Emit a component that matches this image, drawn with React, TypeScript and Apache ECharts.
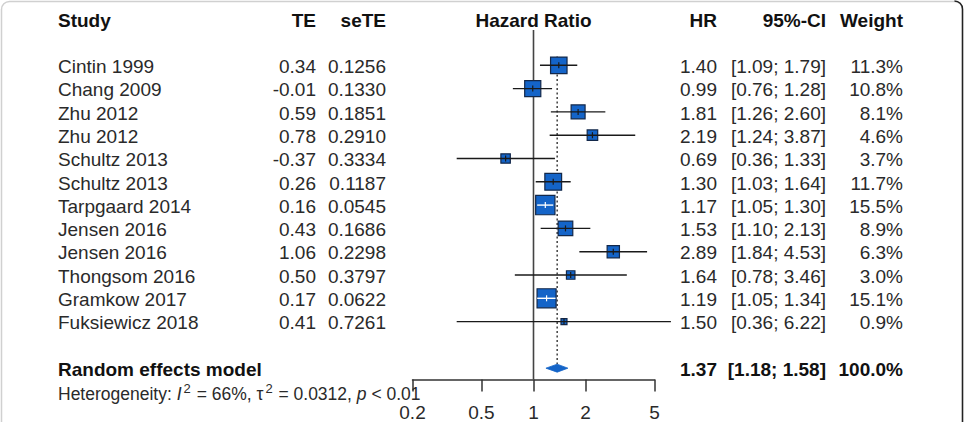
import { useEffect, useRef } from "react";
import * as echarts from "echarts";

// Study-level results (hazard ratios with 95% CI, inverse-variance weights)
const studies = [
  "Cintin 1999",
  "Chang 2009",
  "Zhu 2012",
  "Zhu 2012",
  "Schultz 2013",
  "Schultz 2013",
  "Tarpgaard 2014",
  "Jensen 2016",
  "Jensen 2016",
  "Thongsom 2016",
  "Gramkow 2017",
  "Fuksiewicz 2018",
];
const te = [0.34, -0.01, 0.59, 0.78, -0.37, 0.26, 0.16, 0.43, 1.06, 0.5, 0.17, 0.41];
const seTE = [0.1256, 0.133, 0.1851, 0.291, 0.3334, 0.1187, 0.0545, 0.1686, 0.2298, 0.3797, 0.0622, 0.7261];
const hr = [1.4, 0.99, 1.81, 2.19, 0.69, 1.3, 1.17, 1.53, 2.89, 1.64, 1.19, 1.5];
const ciLow = [1.09, 0.76, 1.26, 1.24, 0.36, 1.03, 1.05, 1.1, 1.84, 0.78, 1.05, 0.36];
const ciHigh = [1.79, 1.28, 2.6, 3.87, 1.33, 1.64, 1.3, 2.13, 4.53, 3.46, 1.34, 6.22];
const weight = [11.3, 10.8, 8.1, 4.6, 3.7, 11.7, 15.5, 8.9, 6.3, 3.0, 15.1, 0.9];

// Pooled random effects estimate
const pooledLabel = "Random effects model";
const pooledHR = [1.37];
const pooledLow = [1.18];
const pooledHigh = [1.58];
const pooledWeight = [100.0];
const heterogeneity = { i2: "66%", tau2: "0.0312", p: "0.01" };

// Axis ticks (hazard ratio, log scale)
const axisTicks = [0.2, 0.5, 1, 2, 5];

const lg = (v: number) => Math.log10(v);

const FONT = '"Liberation Sans", Arial, Helvetica, sans-serif';
const FS = 19;
const INK = "#2a2a2a";
const BOX_FILL = "#1464c8";
const BOX_EDGE = "#13284a";

// row positions on the y scale
const HEADER_ROW = -2;
const POOLED_ROW = studies.length + 1;
const HET_ROW = studies.length + 2.05;
const Y_MIN = -1.515;
const Y_MAX = 13.49;

// column anchors (px)
const COL = { study: 58, te: 316, se: 386, mid: 533.5, hr: 717, ci: 826, w: 903 };
const TEXT_DY = 1.3;

function label(x: number, y: number, text: string, align: string, bold = false, extra: any = {}) {
  return {
    type: "text",
    style: {
      x,
      y: y + TEXT_DY,
      text,
      align,
      verticalAlign: "middle",
      fill: bold ? "#111" : INK,
      fontFamily: FONT,
      fontSize: FS,
      fontWeight: bold ? "bold" : "normal",
      ...extra,
    },
  };
}

export default function App() {
  const ref = useRef<HTMLDivElement>(null);

  useEffect(() => {
    if (!ref.current) return;
    const chart = echarts.init(ref.current, undefined, { renderer: "svg" });

    const studyData = studies.map((_, i) => [lg(hr[i]), i, lg(ciLow[i]), lg(ciHigh[i]), weight[i]]);
    const pooledData = pooledHR.map((v, k) => [lg(v), POOLED_ROW, lg(pooledLow[k]), lg(pooledHigh[k]), pooledWeight[k]]);

    const option: any = {
      animation: false,
      backgroundColor: "#ffffff",
      grid: {
        left: 412.5,
        top: 30,
        width: 242,
        height: 349.6,
        outerBoundsMode: "none",
      },
      xAxis: {
        type: "value",
        position: "bottom",
        min: lg(axisTicks[0]),
        max: lg(axisTicks[axisTicks.length - 1]),
        splitLine: { show: false },
        axisLine: { show: true, onZero: false, lineStyle: { color: "#333", width: 1.5 } },
        axisTick: {
          show: true,
          length: 12,
          customValues: axisTicks.map(lg),
          lineStyle: { color: "#333", width: 1.5 },
        },
        axisLabel: {
          show: true,
          customValues: axisTicks.map(lg),
          margin: 23,
          color: INK,
          fontFamily: FONT,
          fontSize: FS,
          formatter: (v: number) => {
            let best = axisTicks[0];
            axisTicks.forEach((t) => {
              if (Math.abs(lg(t) - v) < Math.abs(lg(best) - v)) best = t;
            });
            return String(best);
          },
        },
      },
      yAxis: {
        type: "value",
        inverse: true,
        min: Y_MIN,
        max: Y_MAX,
        show: false,
      },
      graphic: [
        {
          type: "rect",
          shape: { x: 1.5, y: 1.5, width: 961, height: 460, r: 8 },
          style: { fill: "none", stroke: "#d0d0d0", lineWidth: 1.5 },
          silent: true,
        },
        {
          type: "line",
          shape: { x1: 962.5, y1: 9, x2: 962.5, y2: 422 },
          style: { stroke: "#222", lineWidth: 1.5 },
          silent: true,
        },
        {
          type: "arc",
          shape: { cx: 954.5, cy: 9, r: 8, startAngle: -Math.PI / 2, endAngle: 0 },
          style: { stroke: "#222", lineWidth: 1.5, fill: "none" },
          silent: true,
        },
      ],
      series: [
        // no-effect reference line at HR = 1
        {
          type: "custom",
          clip: false,
          silent: true,
          z: 1,
          data: [[0, Y_MIN, Y_MAX]],
          encode: { x: 0, y: 1 },
          renderItem: (_p: any, api: any) => {
            const a = api.coord([api.value(0), api.value(1)]);
            const b = api.coord([api.value(0), api.value(2)]);
            return {
              type: "line",
              shape: { x1: a[0], y1: a[1], x2: b[0], y2: b[1] },
              style: { stroke: "#444", lineWidth: 1.6 },
            };
          },
        },
        // pooled estimate: dotted line, diamond and summary row text
        {
          type: "custom",
          clip: false,
          silent: true,
          z: 2,
          data: pooledData,
          encode: { x: 0, y: 1 },
          renderItem: (_p: any, api: any) => {
            const row = api.value(1);
            const [cx, cy] = api.coord([api.value(0), row]);
            const xl = api.coord([api.value(2), row])[0];
            const xh = api.coord([api.value(3), row])[0];
            const top = api.coord([api.value(0), -0.38])[1];
            const h = 4;
            const k = _p.dataIndex;
            return {
              type: "group",
              children: [
                {
                  type: "line",
                  shape: { x1: cx, y1: top, x2: cx, y2: cy - h },
                  style: { stroke: "#333", lineWidth: 1.4, lineDash: [2, 2.5] },
                },
                {
                  type: "polygon",
                  shape: { points: [[xl, cy], [cx, cy - h], [xh, cy], [cx, cy + h]] },
                  style: { fill: BOX_FILL, stroke: BOX_FILL, lineWidth: 0.8 },
                },
                label(COL.study, cy, pooledLabel, "left", true),
                label(COL.hr, cy, pooledHR[k].toFixed(2), "right", true),
                label(COL.ci, cy, `[${pooledLow[k].toFixed(2)}; ${pooledHigh[k].toFixed(2)}]`, "right", true),
                label(COL.w, cy, `${pooledWeight[k].toFixed(1)}%`, "right", true),
              ],
            };
          },
        },
        // individual studies: weighted squares, CI whiskers and table columns
        {
          type: "custom",
          clip: false,
          silent: true,
          z: 3,
          data: studyData,
          encode: { x: 0, y: 1 },
          renderItem: (p: any, api: any) => {
            const i = p.dataIndex;
            const row = api.value(1);
            const [cx, cy] = api.coord([api.value(0), row]);
            const xl = api.coord([api.value(2), row])[0];
            const xh = api.coord([api.value(3), row])[0];
            const side = Math.max(6, 4.9 * Math.sqrt(api.value(4)));
            const inside = xl >= cx - side / 2 && xh <= cx + side / 2;
            const whisker = inside ? "#ffffff" : "#1a1a1a";
            return {
              type: "group",
              children: [
                {
                  type: "rect",
                  shape: { x: cx - side / 2, y: cy - side / 2, width: side, height: side },
                  style: { fill: BOX_FILL, stroke: BOX_EDGE, lineWidth: 1.2 },
                },
                {
                  type: "line",
                  shape: { x1: xl, y1: cy, x2: xh, y2: cy },
                  style: { stroke: whisker, lineWidth: 1.4 },
                },
                {
                  type: "line",
                  shape: { x1: cx, y1: cy - 3, x2: cx, y2: cy + 3 },
                  style: { stroke: whisker, lineWidth: 1.2 },
                },
                label(COL.study, cy, studies[i], "left"),
                label(COL.te, cy, te[i].toFixed(2), "right"),
                label(COL.se, cy, seTE[i].toFixed(4), "right"),
                label(COL.hr, cy, hr[i].toFixed(2), "right"),
                label(COL.ci, cy, `[${ciLow[i].toFixed(2)}; ${ciHigh[i].toFixed(2)}]`, "right"),
                label(COL.w, cy, `${weight[i].toFixed(1)}%`, "right"),
              ],
            };
          },
        },
        // column headers and heterogeneity statistics
        {
          type: "custom",
          clip: false,
          silent: true,
          z: 4,
          data: [[0, HEADER_ROW, HET_ROW]],
          encode: { x: 0, y: 1 },
          renderItem: (_p: any, api: any) => {
            const hy = api.coord([0, api.value(1)])[1];
            const ety = api.coord([0, api.value(2)])[1];
            return {
              type: "group",
              children: [
                label(COL.study, hy, "Study", "left", true),
                label(COL.te, hy, "TE", "right", true),
                label(COL.se, hy, "seTE", "right", true),
                label(COL.mid, hy, "Hazard Ratio", "center", true),
                label(COL.hr, hy, "HR", "right", true),
                label(COL.ci, hy, "95%-CI", "right", true),
                label(COL.w, hy, "Weight", "right", true),
                {
                  type: "text",
                  style: {
                    x: COL.study,
                    y: ety + TEXT_DY,
                    text: `Heterogeneity: {i|I}{s|2} = ${heterogeneity.i2}, τ{s|2} = ${heterogeneity.tau2}, {i|p} < ${heterogeneity.p}`,
                    align: "left",
                    verticalAlign: "middle",
                    fill: INK,
                    fontFamily: FONT,
                    fontSize: 17.5,
                    rich: {
                      i: { fontStyle: "italic", fontFamily: FONT, fontSize: 17.5, fill: INK },
                      s: { fontFamily: FONT, fontSize: 13, fill: INK, padding: [0, 1, 10, 2] },
                    },
                  },
                },
              ],
            };
          },
        },
      ],
    };

    chart.setOption(option);
    return () => chart.dispose();
  }, []);

  return (
    <div
      ref={ref}
      style={{ position: "fixed", left: 0, top: 0, width: 967, height: 422, background: "#fff" }}
    />
  );
}
